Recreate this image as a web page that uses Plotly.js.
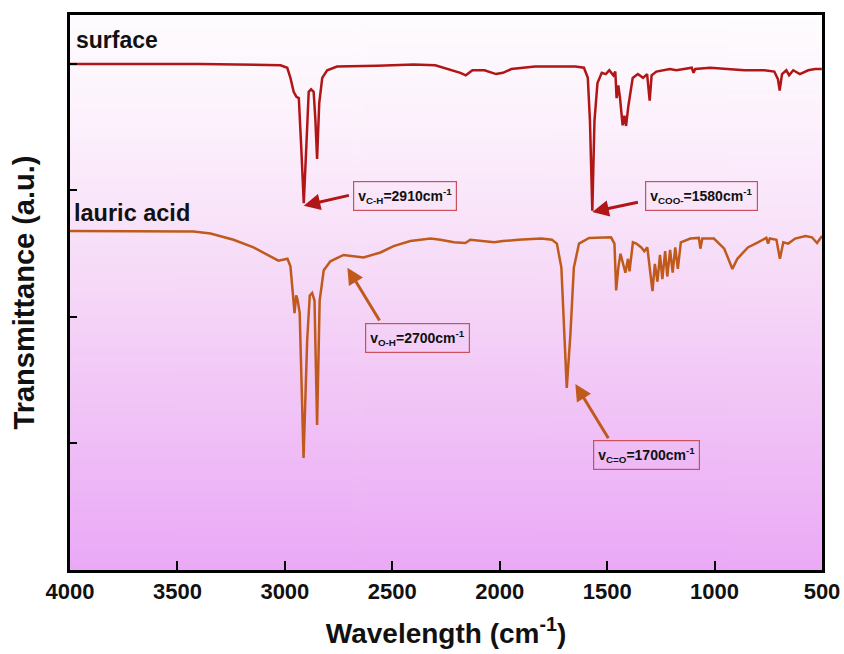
<!DOCTYPE html>
<html>
<head>
<meta charset="utf-8">
<script src="https://cdn.plot.ly/plotly-3.0.1.min.js"></script>
<style>html,body{margin:0;padding:0;background:#fff;}#chart{width:844px;height:654px;}</style>
</head>
<body>
<div id="chart"></div>
<script>
// ---- Data ----
var surfaceWn = [4000,3700,3400,3020,2989,2974,2959,2946,2935,2924,2912,2900,2889,2878,2866,2858,2850,2840,2826,2803,2757,2570,2400,2300,2183,2158,2127,2071,2017,1985,1946,1836,1648,1608,1590,1580,1569,1559,1545,1525,1506,1490,1471,1462,1456,1448,1440,1428,1420,1412,1401,1381,1357,1333,1314,1302,1293,1271,1238,1208,1178,1106,1098,1090,1020,940,861,768,722,705,697,686,666,653,634,603,564,532,501];
var surfaceT  = [4.00,4.00,4.00,3.99,3.97,3.89,3.78,3.74,3.73,3.35,2.90,3.35,3.78,3.80,3.78,3.56,3.25,3.69,3.89,3.95,3.98,3.985,3.995,3.99,3.93,3.91,3.95,3.95,3.92,3.93,3.96,3.98,3.98,3.97,3.89,3.55,2.84,3.55,3.85,3.93,3.92,3.95,3.91,3.94,3.73,3.83,3.73,3.515,3.59,3.51,3.67,3.89,3.92,3.89,3.92,3.71,3.91,3.94,3.95,3.96,3.95,3.97,3.93,3.96,3.97,3.96,3.95,3.95,3.94,3.88,3.79,3.92,3.95,3.91,3.95,3.92,3.95,3.96,3.96];

var lauricWn = [4000,3700,3425,3346,3239,3146,3081,3030,2988,2974,2963,2955,2947,2940,2931,2913,2896,2884,2873,2862,2850,2838,2819,2788,2727,2681,2634,2555,2494,2416,2322,2276,2213,2160,2137,2025,1985,1914,1806,1757,1734,1713,1699,1688,1671,1655,1631,1584,1482,1466,1458,1448,1438,1427,1415,1403,1396,1380,1364,1341,1327,1313,1301,1289,1278,1266,1254,1243,1230,1220,1207,1195,1183,1171,1157,1113,1073,1066,1057,1003,955,917,894,845,798,759,751,743,712,696,680,657,625,577,547,523,500];
var lauricT  = [2.68,2.68,2.675,2.66,2.61,2.55,2.49,2.445,2.46,2.40,2.19,2.03,2.17,2.13,2.03,0.885,1.82,2.17,2.19,2.13,1.146,2.13,2.37,2.44,2.49,2.48,2.47,2.51,2.56,2.60,2.62,2.61,2.59,2.585,2.61,2.59,2.60,2.61,2.62,2.61,2.58,2.39,1.86,1.44,1.86,2.39,2.58,2.625,2.63,2.58,2.21,2.39,2.50,2.43,2.35,2.46,2.36,2.59,2.58,2.55,2.52,2.55,2.39,2.205,2.42,2.28,2.49,2.30,2.52,2.32,2.53,2.35,2.55,2.38,2.59,2.62,2.625,2.54,2.62,2.62,2.54,2.38,2.46,2.55,2.59,2.625,2.58,2.62,2.61,2.46,2.59,2.58,2.62,2.64,2.63,2.585,2.64];

var xTickVals = [4000,3500,3000,2500,2000,1500,1000,500];
var yTickVals = [1,2,3,4];

var seriesNames = ['surface','lauric acid'];
var peakLabels = ['v<sub>C-H</sub>=2910cm<sup>-1</sup>',
                  'v<sub>COO-</sub>=1580cm<sup>-1</sup>',
                  'v<sub>O-H</sub>=2700cm<sup>-1</sup>',
                  'v<sub>C=O</sub>=1700cm<sup>-1</sup>'];

// ---- Background gradient (plot area) ----
var cv = document.createElement('canvas');
cv.width = 4; cv.height = 256;
var cx = cv.getContext('2d');
var g = cx.createLinearGradient(0,0,0,256);
g.addColorStop(0.0,'#fefcfe');
g.addColorStop(0.2,'#fcf1fc');
g.addColorStop(0.45,'#f7dcf8');
g.addColorStop(0.75,'#f0c0f6');
g.addColorStop(1.0,'#eaa9f6');
cx.fillStyle = g; cx.fillRect(0,0,4,256);
var bgURL = cv.toDataURL('image/png');

var cSurf = '#b01616';
var cLaur = '#bf5a1c';
var cBox = '#c9505c';
var FONT = 'Liberation Sans, Arial, sans-serif';

var traces = [
  {x: surfaceWn, y: surfaceT, mode:'lines', name: seriesNames[0], line:{color:cSurf, width:2.5}, hoverinfo:'skip'},
  {x: lauricWn, y: lauricT, mode:'lines', name: seriesNames[1], line:{color:cLaur, width:2.5}, hoverinfo:'skip'}
];

function arrow(tipX, tipY, tailX, tailY, col){
  return {x:tipX, y:tipY, ax:tailX, ay:tailY, xref:'x', yref:'y', axref:'x', ayref:'y',
          text:'', showarrow:true, arrowhead:2, arrowsize:1.1, arrowwidth:3, arrowcolor:col};
}
function box(cxv, cyv, txt){
  return {x:cxv, y:cyv, xref:'x', yref:'y', text:txt, showarrow:false, xanchor:'center', yanchor:'middle',
          bordercolor:cBox, borderwidth:1.2, borderpad:4, bgcolor:'rgba(0,0,0,0)',
          font:{family:FONT, size:14, color:'#111'}};
}

var annotations = [
  arrow(2912, 2.88, 2695, 2.964, cSurf),
  arrow(1569, 2.83, 1350, 2.91, cSurf),
  arrow(2709, 2.39, 2555, 1.96, cLaur),
  arrow(1648, 1.47, 1490, 1.03, cLaur),
  box(2441, 2.96, '<b>'+peakLabels[0]+'</b>'),
  box(1061, 2.957, '<b>'+peakLabels[1]+'</b>'),
  box(2381, 1.834, '<b>'+peakLabels[2]+'</b>'),
  box(1317, 0.909, '<b>'+peakLabels[3]+'</b>'),
  {xref:'paper', yref:'paper', x:0.005, y:(570-40)/555, xanchor:'left', yanchor:'middle', showarrow:false,
   text:'<b>'+seriesNames[0]+'</b>', font:{family:FONT, size:23, color:'#111'}},
  {xref:'paper', yref:'paper', x:0.003, y:(570-213)/555, xanchor:'left', yanchor:'middle', showarrow:false,
   text:'<b>'+seriesNames[1]+'</b>', font:{family:FONT, size:23.5, color:'#111'}}
];

var layout = {
  width:844, height:654,
  margin:{l:70, r:22, t:15, b:84},
  paper_bgcolor:'#ffffff',
  plot_bgcolor:'rgba(0,0,0,0)',
  showlegend:false,
  font:{family:FONT, color:'#111'},
  images:[{source:bgURL, xref:'paper', yref:'paper', x:0, y:1, sizex:1, sizey:1,
           sizing:'stretch', xanchor:'left', yanchor:'top', layer:'below'}],
  xaxis:{
    range:[4000,500], autorange:false,
    tickvals:xTickVals, ticktext:xTickVals.map(String),
    ticks:'inside', ticklen:9, tickwidth:2, tickcolor:'#000',
    showline:true, linewidth:3, linecolor:'#000', mirror:true,
    showgrid:false, zeroline:false,
    tickfont:{family:FONT, size:22, color:'#111', weight:'bold'},
    title:{text:'<b>Wavelength (cm<sup>-1</sup>)</b>', font:{family:FONT, size:28, color:'#111'}, standoff:20}
  },
  yaxis:{
    range:[0,4.387], autorange:false,
    tickvals:yTickVals, ticktext:['','','',''],
    ticks:'inside', ticklen:7, tickwidth:2, tickcolor:'#000',
    showline:true, linewidth:3, linecolor:'#000', mirror:true,
    showgrid:false, zeroline:false,
    title:{text:'<b>Transmittance (a.u.)</b>', font:{family:FONT, size:29, color:'#111'}, standoff:22}
  },
  annotations:annotations
};

Plotly.newPlot('chart', traces, layout, {staticPlot:true, displayModeBar:false});
</script>
</body>
</html>
